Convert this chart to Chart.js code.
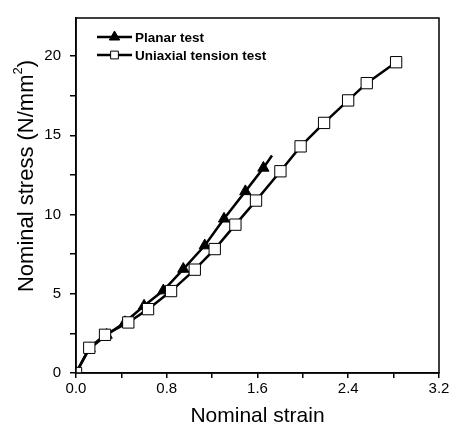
<!DOCTYPE html>
<html>
<head>
<meta charset="utf-8">
<script src="https://cdn.jsdelivr.net/npm/chart.js@4"></script>
<style>
body{margin:0;background:#fff;}
</style>
</head>
<body>
<canvas id="myChart" width="456" height="433"></canvas>
<script>
// values
let planarStrain=[0,0.12,0.27,0.432,0.60,0.77,0.946,1.135,1.305,1.493,1.652,1.728];
let planarStress=[0,1.55,2.40,3.20,4.24,5.20,6.56,8.04,9.73,11.46,12.94,13.72];
let uniaxialStrain=[0,0.117,0.256,0.461,0.635,0.838,1.047,1.223,1.405,1.587,1.802,1.98,2.187,2.399,2.563,2.822];
let uniaxialStress=[0,1.59,2.41,3.19,4.03,5.17,6.52,7.82,9.36,10.88,12.73,14.3,15.78,17.2,18.29,19.61];
let legendNames=['Planar test','Uniaxial tension test'];
let xTitle='Nominal strain';
let yTitle=['Nominal stress (N/mm','2',')'];
let xMin=0,xMax=3.2,xStep=0.4;
let yMin=0,yMax=22.4,yStep=2.5;

let font="'Liberation Sans', Arial, sans-serif";

let planarPts=planarStrain.map((x,i)=>({x:x,y:planarStress[i]}));
let uniPts=uniaxialStrain.map((x,i)=>({x:x,y:uniaxialStress[i]}));

// box around plot, legend inside the plot, y title with superscript
const frame={
    id:'frame',
    afterDraw(chart){
        const ctx=chart.ctx, a=chart.chartArea;
        ctx.save();
        ctx.strokeStyle='#000';
        ctx.lineWidth=1.5;
        ctx.strokeRect(a.left,a.top,a.right-a.left,a.bottom-a.top);
        let rows=[
            {y:37,ds:chart.data.datasets[0]},
            {y:55,ds:chart.data.datasets[1]}
        ];
        rows.forEach((r,i)=>{
            ctx.beginPath();
            ctx.lineWidth=2.5;
            ctx.strokeStyle='#000';
            ctx.moveTo(97,r.y);
            ctx.lineTo(132,r.y);
            ctx.stroke();
            ctx.fillStyle=r.ds.pointBackgroundColor;
            ctx.strokeStyle='#000';
            ctx.lineWidth=1;
            Chart.helpers.drawPoint(ctx,{pointStyle:r.ds.pointStyle,radius:i==0?6:5.5,borderWidth:1},114.5,r.y);
            ctx.fillStyle='#000';
            ctx.font='bold 13.5px '+font;
            ctx.textBaseline='middle';
            ctx.textAlign='left';
            ctx.fillText(legendNames[i],135,r.y+1);
        });

        // y axis title
        ctx.translate(33,176);
        ctx.rotate(-Math.PI/2);
        ctx.fillStyle='#000';
        ctx.textBaseline='alphabetic';
        ctx.textAlign='left';
        ctx.font='22px '+font;
        let w1=ctx.measureText(yTitle[0]).width;
        ctx.font='13px '+font;
        let w2=ctx.measureText(yTitle[1]).width;
        ctx.font='22px '+font;
        let w3=ctx.measureText(yTitle[2]).width;
        let x0=-(w1+w2+w3)/2;
        ctx.fillText(yTitle[0],x0,0);
        ctx.font='13px '+font;
        ctx.fillText(yTitle[1],x0+w1,-11);
        ctx.font='22px '+font;
        ctx.fillText(yTitle[2],x0+w1+w2,0);
        ctx.restore();
    }
};

const ctx=document.getElementById('myChart').getContext('2d');
const myChart=new Chart(ctx,{
    type:'scatter',
    data:{
        datasets:[{
            label:legendNames[0],
            data:planarPts,
            showLine:true,
            borderColor:'#000',
            borderWidth:2.5,
            pointStyle:'triangle',
            pointRadius:planarPts.map((p,i)=>i==planarPts.length-1?0:6.5),
            pointBackgroundColor:'#000',
            pointBorderColor:'#000',
            pointBorderWidth:1,
            order:2
        },{
            label:legendNames[1],
            data:uniPts,
            showLine:true,
            borderColor:'#000',
            borderWidth:2.5,
            pointStyle:'rect',
            pointRadius:8,
            pointBackgroundColor:'#fff',
            pointBorderColor:'#000',
            pointBorderWidth:1,
            order:1
        }]
    },
    options:{
        responsive:false,
        animation:false,
        layout:{padding:{top:10,right:17,left:0,bottom:0}},
        plugins:{legend:{display:false},tooltip:{enabled:false}},
        scales:{
            x:{
                type:'linear',
                min:xMin,max:xMax,
                afterFit:(s)=>{s.height=60;},
                border:{color:'#000',width:1.5},
                grid:{drawOnChartArea:false,color:'#000',tickLength:5,lineWidth:1.5},
                ticks:{
                    stepSize:xStep,
                    color:'#000',
                    padding:2,
                    maxRotation:0,
                    autoSkip:false,
                    font:{family:font,size:15},
                    callback:(v,i)=>i%2==0?v.toFixed(1):''
                },
                title:{display:true,text:xTitle,color:'#000',font:{family:font,size:21},padding:{top:10}}
            },
            y:{
                type:'linear',
                min:yMin,max:yMax,
                afterFit:(s)=>{s.width=76;},
                border:{color:'#000',width:1.5},
                grid:{drawOnChartArea:false,color:'#000',tickLength:6,lineWidth:1.5},
                ticks:{
                    stepSize:yStep,
                    includeBounds:false,
                    color:'#000',
                    padding:9,
                    autoSkip:false,
                    font:{family:font,size:15},
                    callback:(v)=>v%5==0?String(v):''
                }
            }
        }
    },
    plugins:[frame]
});
</script>
</body>
</html>
